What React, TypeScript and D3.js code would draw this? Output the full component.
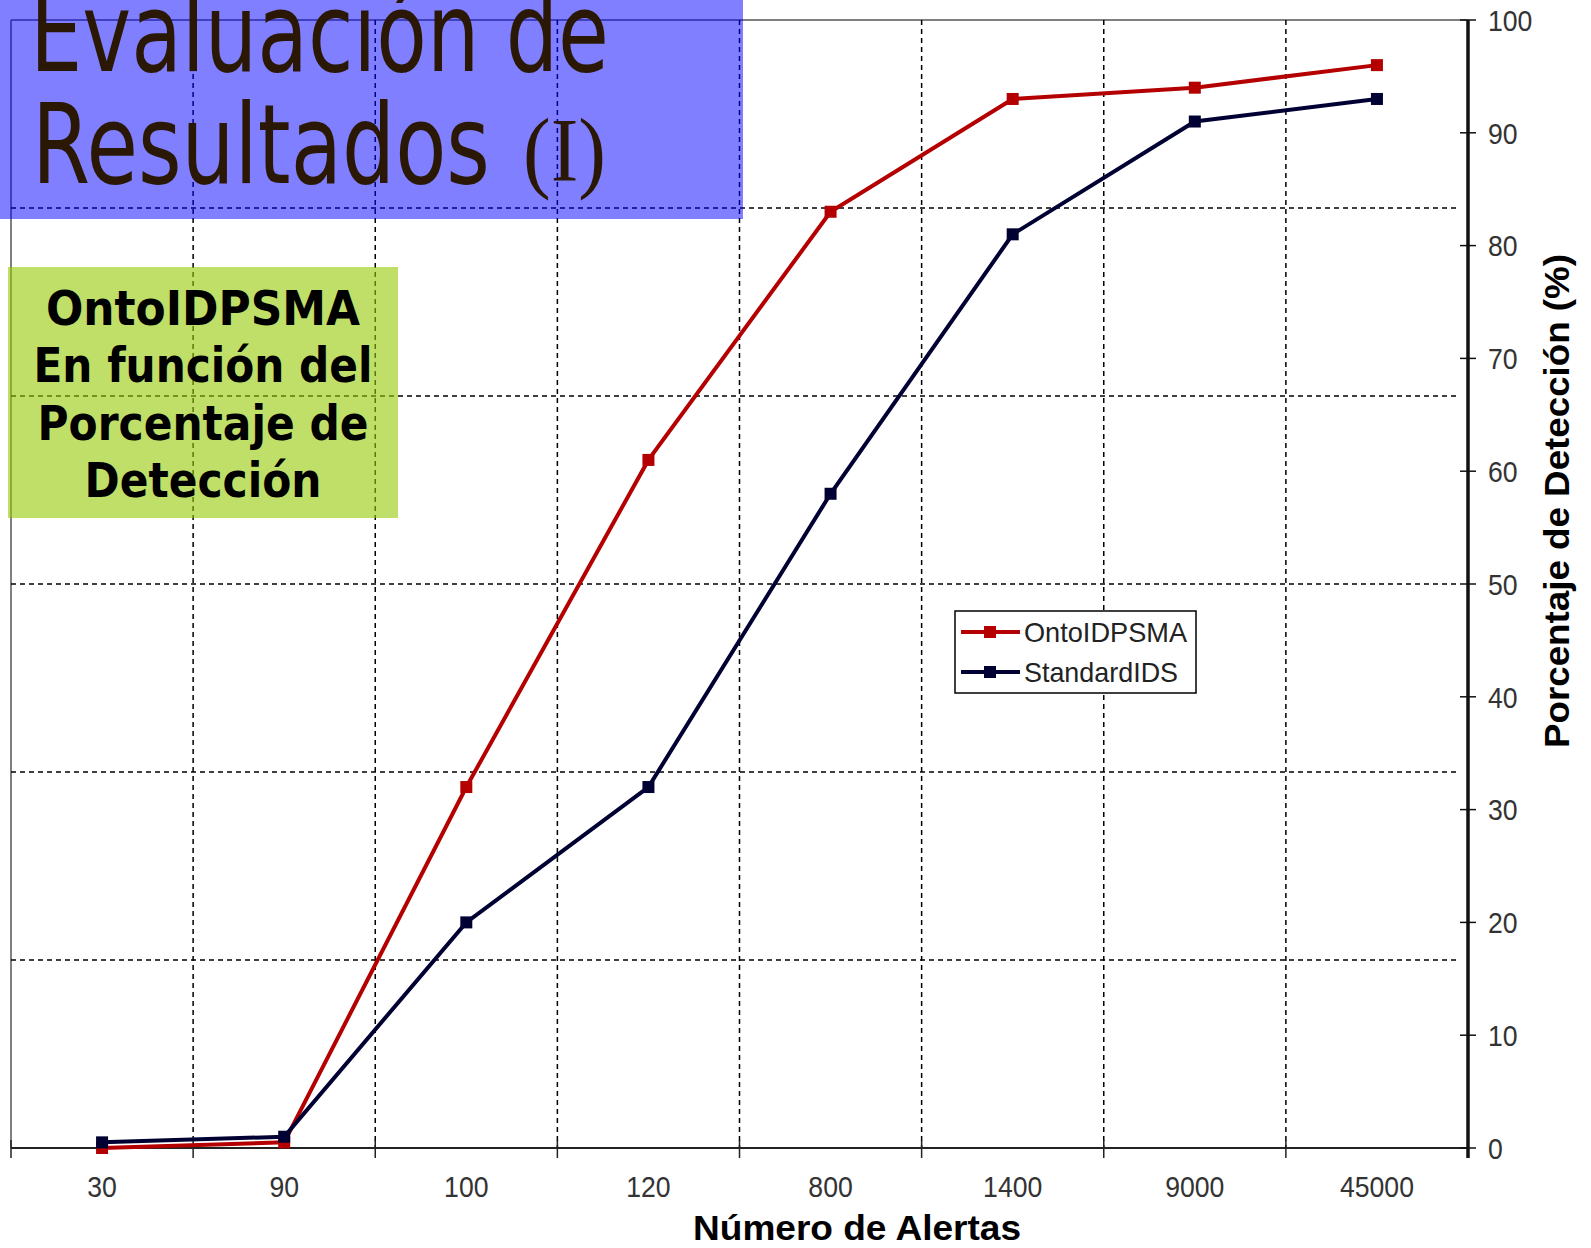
import React from "react";
import * as d3 from "d3";

const categories = ["30", "90", "100", "120", "800", "1400", "9000", "45000"];
const ontoValues = [0, 0.5, 32, 61, 83, 93, 94, 96];
const standardValues = [0.5, 1, 20, 32, 58, 81, 91, 93];
const yTicks = [0, 10, 20, 30, 40, 50, 60, 70, 80, 90, 100];
const gridYValues = [16.667, 33.333, 50, 66.667, 83.333];
const seriesNames = ["OntoIDPSMA", "StandardIDS"];
const seriesColors = ["#B40000", "#000033"];
const titleLines = ["Evaluación de", "Resultados"];
const titleSuffix = "(I)";
const boxLines = ["OntoIDPSMA", "En función del", "Porcentaje de", "Detección"];
const xTitle = "Número de Alertas";
const yTitle = "Porcentaje de Detección (%)";

const W = 1591;
const H = 1248;
const left = 11;
const right = 1468;
const top = 20;
const bottom = 1148;

export default function App() {
  const x = d3.scaleBand<string>().domain(categories).range([left, right]).padding(0);
  const y = d3.scaleLinear().domain([0, 100]).range([bottom, top]);
  const cx = (c: string) => (x(c) as number) + x.bandwidth() / 2;
  const line = d3
    .line<number>()
    .x((_, i) => cx(categories[i]))
    .y((v) => y(v));
  const series = [ontoValues, standardValues];
  const narrow = "'Liberation Sans', Arial, sans-serif";
  const boundaries = categories.slice(1).map((c) => x(c) as number);
  const digitW = 14.8;

  return (
    <svg
      width={W}
      height={H}
      style={{ position: "absolute", left: 0, top: 0, background: "#fff" }}
    >
      <rect x={0} y={0} width={W} height={H} fill="#fff" />
      {/* plot frame */}
      <line x1={left} x2={right} y1={top} y2={top} stroke="#555" strokeWidth={1.5} />
      <line x1={left} x2={left} y1={top} y2={bottom} stroke="#555" strokeWidth={1.5} />
      {/* gridlines */}
      {gridYValues.map((v) => (
        <line
          key={"gy" + v}
          x1={left}
          x2={right - 8}
          y1={y(v)}
          y2={y(v)}
          stroke="#000"
          strokeWidth={1.5}
          strokeDasharray="5,4"
        />
      ))}
      {boundaries.map((b, i) => (
        <line
          key={"gx" + i}
          x1={b}
          x2={b}
          y1={top}
          y2={bottom}
          stroke="#000"
          strokeWidth={1.5}
          strokeDasharray="5,4"
        />
      ))}
      {/* x axis */}
      <line x1={left} x2={right} y1={bottom} y2={bottom} stroke="#222" strokeWidth={2} />
      {[left, ...boundaries, right].map((b, i) => (
        <line key={"xt" + i} x1={b} x2={b} y1={bottom - 8} y2={bottom + 10} stroke="#222" strokeWidth={1.5} />
      ))}
      {categories.map((c) => (
        <text
          key={"xl" + c}
          x={cx(c)}
          y={1197}
          textAnchor="middle"
          fontFamily={narrow}
          fontSize={30}
          textLength={c.length * digitW}
          lengthAdjust="spacingAndGlyphs"
          fill="#333"
        >
          {c}
        </text>
      ))}
      {/* y axis */}
      <line x1={right} x2={right} y1={top} y2={bottom + 10} stroke="#111" strokeWidth={3.5} />
      {yTicks.map((t) => (
        <g key={"yt" + t}>
          <line x1={right - 8} x2={right + 8} y1={y(t)} y2={y(t)} stroke="#111" strokeWidth={1.5} />
          <text
            x={right + 20}
            y={y(t)}
            dy="0.36em"
            fontFamily={narrow}
            fontSize={30}
            textLength={String(t).length * digitW}
            lengthAdjust="spacingAndGlyphs"
            fill="#333"
          >
            {t}
          </text>
        </g>
      ))}
      {/* series */}
      {series.map((vals, si) => (
        <g key={"s" + si}>
          <path d={line(vals) || ""} fill="none" stroke={seriesColors[si]} strokeWidth={4} />
          {vals.map((v, i) => (
            <rect
              key={i}
              x={cx(categories[i]) - 6}
              y={y(v) - 6}
              width={12}
              height={12}
              fill={seriesColors[si]}
            />
          ))}
        </g>
      ))}
      {/* legend */}
      <rect x={955} y={611} width={241} height={82} fill="#fff" stroke="#000" strokeWidth={1.5} />
      {seriesNames.map((n, i) => {
        const ly = 632 + i * 40;
        const lens = [163, 154];
        return (
          <g key={"lg" + i}>
            <line x1={961} x2={1020} y1={ly} y2={ly} stroke={seriesColors[i]} strokeWidth={4} />
            <rect x={984} y={ly - 6} width={12} height={12} fill={seriesColors[i]} />
            <text
              x={1024}
              y={ly}
              dy="0.36em"
              fontFamily={narrow}
              fontSize={28}
              textLength={lens[i]}
              lengthAdjust="spacingAndGlyphs"
              fill="#222"
            >
              {n}
            </text>
          </g>
        );
      })}
      {/* axis titles */}
      <text
        x={857}
        y={1240}
        textAnchor="middle"
        fontFamily="'Liberation Sans', Arial, sans-serif"
        fontWeight="bold"
        fontSize={35}
        textLength={328}
        lengthAdjust="spacingAndGlyphs"
        fill="#000"
      >
        {xTitle}
      </text>
      <text
        transform="translate(1569,501) rotate(-90)"
        textAnchor="middle"
        fontFamily="'Liberation Sans', Arial, sans-serif"
        fontWeight="bold"
        fontSize={35}
        textLength={494}
        lengthAdjust="spacingAndGlyphs"
        fill="#000"
      >
        {yTitle}
      </text>
      {/* title box */}
      <rect x={0} y={0} width={743} height={219} fill="#0000FF" fillOpacity={0.5} />
      <text
        x={30}
        y={71}
        fontFamily="'DejaVu Sans', Verdana, sans-serif"
        fontSize={110}
        textLength={579}
        lengthAdjust="spacingAndGlyphs"
        fill="#2A1804"
      >
        {titleLines[0]}
      </text>
      <text
        x={32}
        y={183}
        fontFamily="'DejaVu Sans', Verdana, sans-serif"
        fontSize={110}
        textLength={458}
        lengthAdjust="spacingAndGlyphs"
        fill="#2A1804"
      >
        {titleLines[1]}
      </text>
      <text
        x={523}
        y={181}
        fontFamily="'Liberation Serif', 'Times New Roman', serif"
        fontSize={90}
        textLength={83}
        lengthAdjust="spacingAndGlyphs"
        fill="#2A1804"
      >
        {titleSuffix}
      </text>
      {/* green box */}
      <rect x={8} y={267} width={390} height={251} fill="rgb(150,202,3)" fillOpacity={0.6} />
      {boxLines.map((l, i) => {
        const lens = [314, 339, 331, 237];
        return (
          <text
            key={"bl" + i}
            x={203}
            y={325 + i * 57.3}
            textAnchor="middle"
            fontFamily="'DejaVu Sans', Verdana, sans-serif"
            fontWeight="bold"
            fontSize={48}
            textLength={lens[i]}
            lengthAdjust="spacingAndGlyphs"
            fill="#000"
          >
            {l}
          </text>
        );
      })}
    </svg>
  );
}
